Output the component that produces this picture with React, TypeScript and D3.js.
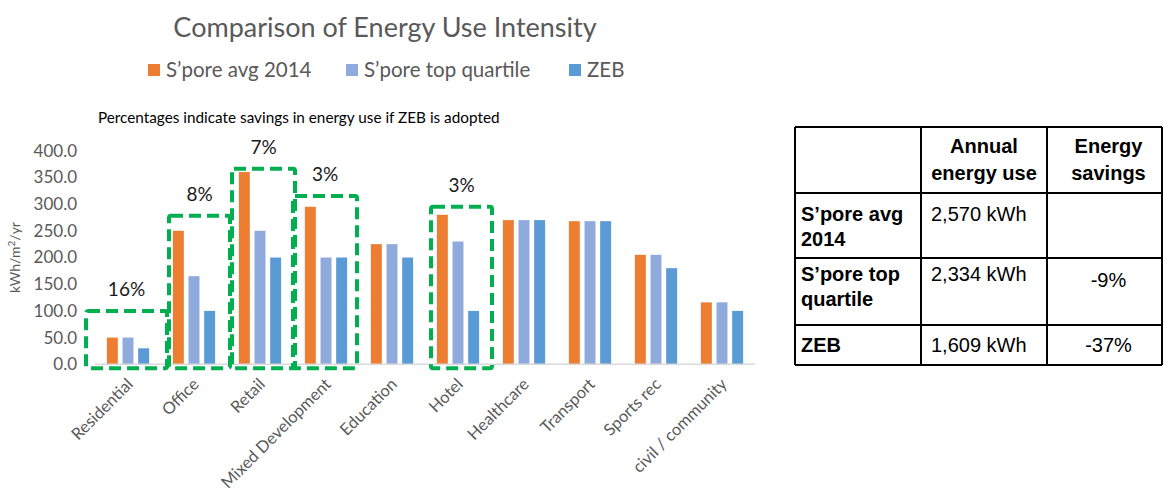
import React from "react";
import * as d3 from "d3";

// Energy use intensity per building type (kWh/m²/yr)
const categories = [
  "Residential",
  "Office",
  "Retail",
  "Mixed Development",
  "Education",
  "Hotel",
  "Healthcare",
  "Transport",
  "Sports rec",
  "civil / community",
];
const seriesNames = ["S’pore avg 2014", "S’pore top quartile", "ZEB"];
const avg2014 = [50, 250, 360, 295, 225, 280, 270, 268, 205, 116];
const topQuartile = [50, 165, 250, 200, 225, 230, 270, 268, 205, 116];
const zeb = [30, 100, 200, 200, 200, 100, 270, 268, 180, 100];
const yTicks = [0, 50, 100, 150, 200, 250, 300, 350, 400];

// Highlighted categories: savings label and the value the dashed frame reaches
const savingsCategories = ["Residential", "Office", "Retail", "Mixed Development", "Hotel"];
const savingsLabels = ["16%", "8%", "7%", "3%", "3%"];
const frameTops = [100, 278, 366, 315, 295];

// Summary table
const tableHeader = [[""], ["Annual", "energy use"], ["Energy", "savings"]];
const tableRowNames = [["S’pore avg", "2014"], ["S’pore top", "quartile"], ["ZEB"]];
const tableAnnual = ["2,570 kWh", "2,334 kWh", "1,609 kWh"];
const tableSavings = ["", "-9%", "-37%"];

const COLORS = ["#ED7D31", "#8FAADC", "#5B9BD5"];
const GREEN = "#00B050";
const GREY = "#595959";
const FONT = "Lato, 'Open Sans', sans-serif";
const TABLE_FONT = "'Liberation Sans', Arial, sans-serif";

// Frame edge tweaks relative to the category band (px): [left, right]
const frameInsets: Record<string, [number, number]> = {
  Residential: [-9, 6],
  Office: [8, 3],
  Retail: [5, 2],
  "Mixed Development": [0, -2],
  Hotel: [6, 1],
};

export default function App() {
  const width = 1163;
  const height = 494;
  const plot = { left: 95, right: 755, top: 150.7, bottom: 364.3 };

  const x = d3.scaleBand<string>().domain(categories).range([plot.left, plot.right]).padding(0);
  const bw = x.bandwidth();
  const xs = d3
    .scaleBand<string>()
    .domain(seriesNames)
    .range([bw * 0.18, bw * 0.82])
    .paddingInner(0.3)
    .paddingOuter(0);
  const y = d3.scaleLinear().domain([0, 400]).range([plot.bottom, plot.top]);
  const fmt = d3.format(".1f");

  const series = [avg2014, topQuartile, zeb];

  // Table geometry
  const colX = [795, 921, 1047, 1162];
  const rowY = [127, 193, 258, 325, 365];

  return (
    <svg
      width={width}
      height={height}
      style={{ position: "absolute", left: 0, top: 0, background: "#fff" }}
    >
      {/* Title */}
      <text x={385} y={37} textAnchor="middle" fontFamily={FONT} fontSize={27} fill={GREY}>
        Comparison of Energy Use Intensity
      </text>

      {/* Legend */}
      {[
        { name: seriesNames[0], sx: 148, tx: 166 },
        { name: seriesNames[1], sx: 346, tx: 364 },
        { name: seriesNames[2], sx: 569, tx: 587 },
      ].map((d, i) => (
        <g key={d.name}>
          <rect x={d.sx} y={64} width={12} height={12} fill={COLORS[i]} />
          <text x={d.tx} y={77} fontFamily={FONT} fontSize={20.5} fill={GREY}>
            {d.name}
          </text>
        </g>
      ))}

      {/* Note */}
      <text x={98} y={123} fontFamily={FONT} fontSize={15.3} fill="#000">
        Percentages indicate savings in energy use if ZEB is adopted
      </text>

      {/* Y axis labels */}
      {yTicks.map((t) => (
        <text
          key={t}
          x={77}
          y={y(t)}
          dy="0.35em"
          textAnchor="end"
          fontFamily={FONT}
          fontSize={17}
          fill={GREY}
        >
          {fmt(t)}
        </text>
      ))}
      <text
        transform={`translate(20, ${(plot.top + plot.bottom) / 2}) rotate(-90)`}
        textAnchor="middle"
        fontFamily={FONT}
        fontSize={14}
        fill={GREY}
      >
        kWh/m<tspan dy={-5} fontSize={10}>2</tspan>
        <tspan dy={5}>/yr</tspan>
      </text>

      {/* Bars */}
      {series.map((vals, si) =>
        categories.map((c, ci) => (
          <rect
            key={`${si}-${c}`}
            x={(x(c) ?? 0) + (xs(seriesNames[si]) ?? 0)}
            y={y(vals[ci])}
            width={xs.bandwidth()}
            height={y(0) - y(vals[ci])}
            fill={COLORS[si]}
          />
        ))
      )}

      {/* Baseline */}
      <line x1={plot.left} x2={plot.right} y1={y(0)} y2={y(0)} stroke="#D9D9D9" strokeWidth={1.5} />

      {/* X axis labels */}
      {categories.map((c) => (
        <text
          key={c}
          transform={`translate(${(x(c) ?? 0) + bw / 2 + 6}, ${plot.bottom + 21}) rotate(-45)`}
          textAnchor="end"
          fontFamily={FONT}
          fontSize={16.5}
          fill={GREY}
        >
          {c}
        </text>
      ))}

      {/* Savings frames */}
      {savingsCategories.map((c, i) => {
        const [l, r] = frameInsets[c];
        const x0 = (x(c) ?? 0) + l;
        const x1 = (x(c) ?? 0) + bw + r;
        const top = y(frameTops[i]);
        const bottom = y(0) + 4;
        return (
          <g key={`f-${c}`}>
            <rect
              x={x0}
              y={top}
              width={x1 - x0}
              height={bottom - top}
              fill="none"
              stroke={GREEN}
              strokeWidth={4}
              strokeDasharray="12 6"
              rx={2}
            />
            <text
              x={(x0 + x1) / 2}
              y={top - 15}
              textAnchor="middle"
              fontFamily={FONT}
              fontSize={19}
              fill="#1a1a1a"
            >
              {savingsLabels[i]}
            </text>
          </g>
        );
      })}

      {/* Summary table */}
      <g fontFamily={TABLE_FONT} fontSize={20} fill="#000">
        {rowY.map((ry, i) => (
          <line key={`h${i}`} x1={colX[0]} x2={colX[3]} y1={ry} y2={ry} stroke="#000" strokeWidth={2} />
        ))}
        {colX.map((cx, i) => (
          <line key={`v${i}`} x1={cx} x2={cx} y1={rowY[0]} y2={rowY[4]} stroke="#000" strokeWidth={2} />
        ))}
        {tableHeader.map((lines, ci) =>
          lines.map((ln, li) => (
            <text
              key={`th${ci}-${li}`}
              x={(colX[ci] + colX[ci + 1]) / 2 + (ci === 2 ? 4 : 0)}
              y={153 + li * 27}
              textAnchor="middle"
              fontWeight="bold"
            >
              {ln}
            </text>
          ))
        )}
        {tableRowNames.map((lines, ri) =>
          lines.map((ln, li) => (
            <text
              key={`rn${ri}-${li}`}
              x={colX[0] + 6}
              y={[221, 281, 352][ri] + li * 25}
              fontWeight="bold"
            >
              {ln}
            </text>
          ))
        )}
        {tableAnnual.map((v, ri) => (
          <text key={`a${ri}`} x={931} y={[221, 281, 352][ri]}>
            {v}
          </text>
        ))}
        {tableSavings.map((v, ri) => (
          <text
            key={`s${ri}`}
            x={(colX[2] + colX[3]) / 2 + 4}
            y={[221, 287, 352][ri]}
            textAnchor="middle"
          >
            {v}
          </text>
        ))}
      </g>
    </svg>
  );
}
